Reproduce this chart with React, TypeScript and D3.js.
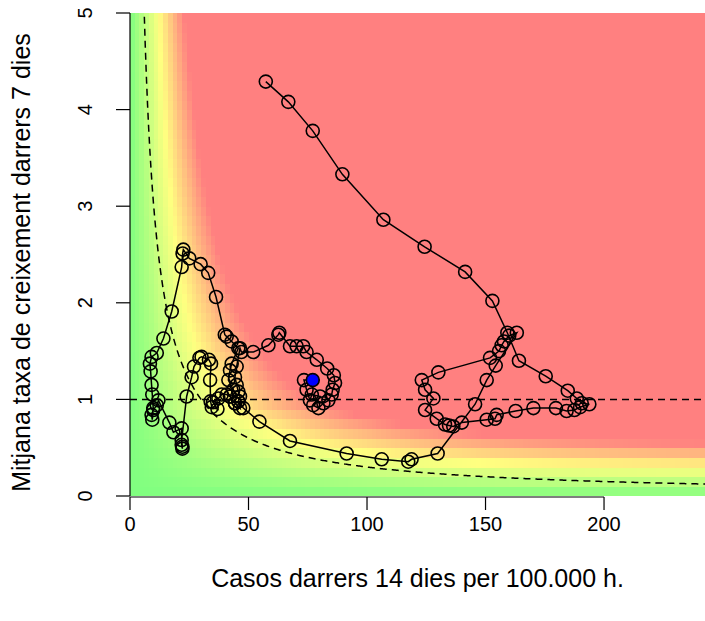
import React from "react";
import * as d3 from "d3";

// Trajectory (IA14, rho7), in time order; last point is highlighted
const casos14: number[] = [
  57.3, 66.8, 77.1, 89.6, 106.9, 124.3, 141.4, 152.9, 159.2, 164.1, 175.4, 184.7, 188.5, 190.6, 193.8,
  189.9, 187.5, 184.2, 179.7, 170.2, 162.7, 154.7, 154.0, 150.5, 140.0, 136.4, 134.6, 132.9, 129.4, 124.5,
  128.0, 124.5, 123.1, 130.1, 151.9, 155.7, 156.8, 157.8, 160.0, 163.2, 154.3, 150.5, 145.6, 129.8, 118.8,
  117.4, 106.2, 91.4, 67.5, 54.6, 47.8, 45.7, 44.3, 42.2, 40.8, 38.7, 37.3, 35.0, 36.9, 34.5,
  34.0, 33.8, 34.2, 33.3, 30.2, 29.3, 27.0, 26.0, 23.9, 21.8, 22.1, 22.1, 21.8, 21.8, 18.3,
  16.6, 12.0, 11.3, 9.8, 9.1, 9.4, 9.8, 9.4, 9.1, 8.7, 8.4, 9.1, 11.3, 14.1, 17.6,
  21.8, 22.2, 22.5, 25.0, 29.8, 33.0, 36.3, 40.0, 40.8, 42.9, 45.7, 42.9, 42.2, 41.5, 43.6,
  42.2, 44.3, 46.4, 45.7, 46.4, 45.7, 45.0, 44.3, 45.0, 46.4, 47.0, 52.0, 58.4, 62.6, 63.0,
  67.5, 70.3, 73.1, 74.5, 78.8, 83.2, 86.0, 86.5, 85.5, 85.1, 83.7, 81.6, 79.5, 77.3, 80.2,
  76.7, 75.9, 74.5, 73.4, 77.1
];
const taxa7: number[] = [
  4.29, 4.08, 3.78, 3.33, 2.86, 2.58, 2.32, 2.02, 1.69, 1.40, 1.24, 1.09, 1.01, 0.96, 0.95,
  0.92, 0.89, 0.88, 0.91, 0.91, 0.88, 0.84, 0.80, 0.79, 0.76, 0.72, 0.73, 0.74, 0.80, 0.89,
  1.01, 1.10, 1.20, 1.28, 1.43, 1.50, 1.56, 1.60, 1.66, 1.69, 1.35, 1.20, 0.95, 0.44, 0.38,
  0.355, 0.38, 0.44, 0.57, 0.77, 0.91, 0.98, 0.96, 1.03, 1.05, 1.05, 1.01, 0.97, 0.90, 0.92,
  0.98, 1.20, 1.37, 1.41, 1.44, 1.43, 1.34, 1.23, 1.03, 0.58, 0.51, 0.49, 0.53, 0.70, 0.66,
  0.76, 0.99, 0.94, 0.89, 0.84, 0.79, 0.91, 1.05, 1.15, 1.29, 1.37, 1.44, 1.48, 1.63, 1.91,
  2.37, 2.51, 2.55, 2.46, 2.40, 2.31, 2.06, 1.67, 1.65, 1.60, 1.53, 1.37, 1.30, 1.20, 1.10,
  1.03, 0.96, 0.91, 0.98, 1.03, 1.08, 1.15, 1.23, 1.34, 1.53, 1.49, 1.49, 1.56, 1.67, 1.69,
  1.55, 1.55, 1.55, 1.49, 1.41, 1.32, 1.25, 1.17, 1.10, 1.05, 0.99, 0.96, 0.91, 0.94, 1.03,
  1.05, 0.99, 1.10, 1.20, 1.20
];

const xTicks = [0, 50, 100, 150, 200];
const yTicks = [0, 1, 2, 3, 4, 5];
const xDomain = [0, 242.6];
const yDomain = [0, 5];
const epgThreshold = 30; // dashed curve: IA14 * rho = 30
const riskStops = [0, 37, 69];
const riskColors = ["#80ff80", "#ffff80", "#ff8080"];

const xTitle = "Casos darrers 14 dies per 100.000 h.";
const yTitle = "Mitjana taxa de creixement darrers 7 dies";

export default function App() {
  const W = 705, H = 621;
  const L = 130, R = 705, T = 13, B = 496;
  const x = d3.scaleLinear().domain(xDomain).range([L, R]);
  const y = d3.scaleLinear().domain(yDomain).range([B, T]);
  const color = d3.scaleLinear<string>().domain(riskStops).range(riskColors).clamp(true);

  // background risk field (saturating in incidence)
  const risk = (cx: number, cy: number) =>
    130 * Math.tanh(cx / 130) * (cy >= 1 ? Math.pow(cy, 0.69) : cy);

  const dx = 2, dy = 0.1;
  const cells: { x0: number; y0: number; c: string }[] = [];
  for (let gx = 0; gx < xDomain[1]; gx += dx) {
    for (let k = 0; k < 50; k++) {
      const gy = k * dy;
      cells.push({ x0: gx, y0: gy, c: color(risk(gx + dx / 2, gy + dy / 2)) });
    }
  }

  const curvePts = d3.range(5.9, 243, 0.5).map((cx) => [cx, epgThreshold / cx] as [number, number]);
  const curve = d3.line<[number, number]>().x((d) => x(d[0])).y((d) => y(d[1]))(curvePts) || "";
  const pts = casos14.map((c, i) => [c, taxa7[i]] as [number, number]);
  const path = d3.line<[number, number]>().x((d) => x(d[0])).y((d) => y(d[1]))(pts) || "";
  const last = pts[pts.length - 1];
  const font = "Liberation Sans, Arial, Helvetica, sans-serif";

  return (
    <svg width={W} height={H} style={{ position: "absolute", left: 0, top: 0, background: "#fff" }} fontFamily={font}>
      <defs>
        <clipPath id="plot">
          <rect x={L} y={T} width={R - L} height={B - T} />
        </clipPath>
      </defs>
      <g clipPath="url(#plot)" shapeRendering="crispEdges">
        {cells.map((c, i) => (
          <rect key={i} x={x(c.x0)} y={y(c.y0 + dy)} width={x(c.x0 + dx) - x(c.x0) + 0.6} height={y(c.y0) - y(c.y0 + dy) + 0.6} fill={c.c} />
        ))}
      </g>
      <g clipPath="url(#plot)" fill="none">
        <path d={curve} stroke="#000" strokeWidth={1.5} strokeDasharray="7,5" />
        <line x1={L} x2={R} y1={y(1)} y2={y(1)} stroke="#000" strokeWidth={1.5} strokeDasharray="7,5" />
        <path d={path} stroke="#000" strokeWidth={1.5} />
        {pts.map((p, i) => (
          <circle key={i} cx={x(p[0])} cy={y(p[1])} r={6.5} stroke="#000" strokeWidth={1.6} fill="none" />
        ))}
        <circle cx={x(last[0])} cy={y(last[1])} r={6} fill="#0000ff" stroke="#000" strokeWidth={0.8} />
      </g>
      {/* axes */}
      <g stroke="#000" strokeWidth={1.2}>
        <line x1={L} x2={L} y1={y(0)} y2={y(5)} />
        {yTicks.map((t) => (
          <line key={t} x1={L - 14} x2={L} y1={y(t)} y2={y(t)} />
        ))}
        <line x1={x(0)} x2={x(200)} y1={B + 1} y2={B + 1} />
        {xTicks.map((t) => (
          <line key={t} x1={x(t)} x2={x(t)} y1={B + 1} y2={B + 14} />
        ))}
      </g>
      <g fontSize={20} fill="#000">
        {xTicks.map((t) => (
          <text key={t} x={x(t)} y={B + 35} textAnchor="middle">{t}</text>
        ))}
        {yTicks.map((t) => (
          <text key={t} transform={`translate(${L - 38},${y(t)}) rotate(-90)`} textAnchor="middle">{t}</text>
        ))}
      </g>
      <g fontSize={25} fill="#000">
        <text x={(L + R) / 2} y={587} textAnchor="middle">{xTitle}</text>
        <text transform={`translate(30,${(T + B) / 2 + 8}) rotate(-90)`} textAnchor="middle">{yTitle}</text>
      </g>
    </svg>
  );
}
